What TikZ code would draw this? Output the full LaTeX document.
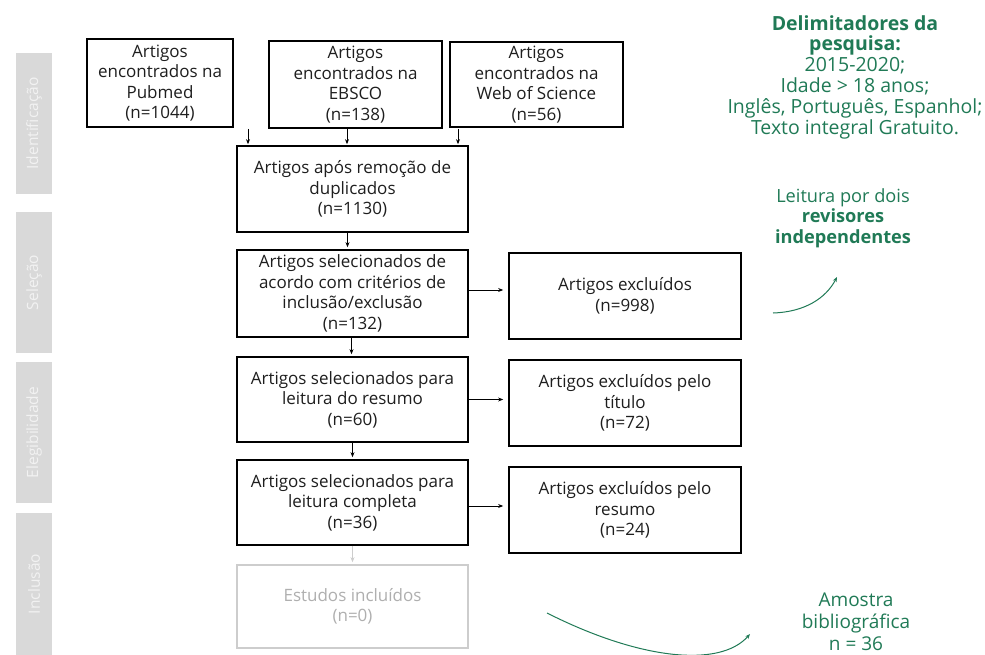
\documentclass[tikz,border=0pt]{standalone}
\usepackage{fontspec}
\setmainfont{Open Sans}
\usetikzlibrary{arrows.meta,calc}
\definecolor{boxtext}{RGB}{30,30,30}
\definecolor{barfill}{RGB}{217,217,217}
\definecolor{bartext}{RGB}{242,242,242}
\definecolor{faded}{RGB}{205,205,205}
\definecolor{fadedtext}{RGB}{175,175,175}
\definecolor{note}{RGB}{32,122,86}
\tikzset{
  flowbox/.style={draw=black, line width=1.7pt, fill=white, align=center,
    text=boxtext, inner sep=1pt,
    font=\fontsize{17}{20.5}\selectfont},
  fadedbox/.style={flowbox, draw=faded, text=fadedtext},
  phase/.style={fill=barfill, draw=none, minimum height=36pt, inner sep=0pt,
    text=bartext, rotate=90, font=\fontsize{15.5}{18}\selectfont},
  arr/.style={line width=0.9pt, -{Stealth[length=5pt,width=4pt]}},
  notetext/.style={align=center, text=note, inner sep=0pt,
    font=\fontsize{19.5}{20.8}\selectfont},
  notearr/.style={draw=note, line width=1pt, -{Stealth[length=5pt,width=4pt]}}
}
\begin{document}
\begin{tikzpicture}[x=1pt,y=-1pt]
\useasboundingbox (0,0) rectangle (985,655);

% phase bars on the left
\node[phase, minimum width=141pt] (pid) at (34,123.5) {Identificação};
\node[phase, minimum width=141pt] (psel) at (34,282.5) {Seleção};
\node[phase, minimum width=141pt] (pele) at (34,432.5) {Elegibilidade};
\node[phase, minimum width=142pt] (pinc) at (34,584) {Inclusão};

% database searches
\node[flowbox, minimum width=146pt, minimum height=88pt] (pub) at (160,83)
  {Artigos\\encontrados na\\Pubmed\\(n=1044)};
\node[flowbox, minimum width=173pt, minimum height=87pt] (ebsco) at (355.5,84.5)
  {Artigos\\encontrados na\\EBSCO\\(n=138)};
\node[flowbox, minimum width=173pt, minimum height=85pt] (wos) at (536.5,84.5)
  {Artigos\\encontrados na\\Web of Science\\(n=56)};

% main column
\node[flowbox, minimum width=231pt, minimum height=86pt] (dup) at (352.5,189)
  {Artigos após remoção de\\duplicados\\(n=1130)};
\node[flowbox, minimum width=231pt, minimum height=87pt] (sel) at (352.5,293.5)
  {Artigos selecionados de\\acordo com critérios de\\inclusão/exclusão\\(n=132)};
\node[flowbox, minimum width=231pt, minimum height=85pt] (res) at (352.5,399.5)
  {Artigos selecionados para\\leitura do resumo\\(n=60)};
\node[flowbox, minimum width=231pt, minimum height=85pt] (comp) at (352.5,502.5)
  {Artigos selecionados para\\leitura completa\\(n=36)};
\node[fadedbox, minimum width=231pt, minimum height=83pt] (est) at (352.5,606.5)
  {Estudos incluídos\\(n=0)};

% exclusions
\node[flowbox, minimum width=232pt, minimum height=86pt] (exc1) at (625,296)
  {Artigos excluídos\\(n=998)};
\node[flowbox, minimum width=232pt, minimum height=86pt] (exc2) at (625,403)
  {Artigos excluídos pelo\\título\\(n=72)};
\node[flowbox, minimum width=232pt, minimum height=86pt] (exc3) at (625,510)
  {Artigos excluídos pelo\\resumo\\(n=24)};

% arrows into the duplicate-removal step
\coordinate (s1) at (248,129);
\coordinate (s2) at (347,129);
\coordinate (s3) at (458,129);
\draw[arr, shorten >=1pt] (s1) -- (s1 |- dup.north);
\draw[arr, shorten >=1pt] (s2) -- (s2 |- dup.north);
\draw[arr, shorten >=1pt] (s3) -- (s3 |- dup.north);

% arrows down the main column
\coordinate (d1) at ($(dup.south)+(-5,0)$);
\coordinate (d2) at ($(sel.south)+(-1,0)$);
\draw[arr, shorten >=2pt] (d1) -- (d1 |- sel.north);
\draw[arr, shorten >=2pt] (d2) -- (d2 |- res.north);
\draw[arr, shorten >=2pt] (res.south) -- (comp.north);
\draw[arr, draw=faded, shorten >=2pt] (comp.south) -- (est.north);

% arrows to the exclusions
\coordinate (e1) at ($(sel.east)+(0,-3.5)$);
\coordinate (e3) at ($(comp.east)+(0,3.5)$);
\draw[arr, shorten >=5pt] (e1) -- (e1 -| exc1.west);
\draw[arr, shorten >=5pt] (res.east) -- (res.east -| exc2.west);
\draw[arr, shorten >=5pt] (e3) -- (e3 -| exc3.west);

% side notes
\node[notetext] (delim) at (855,77)
  {\textbf{Delimitadores da}\\\textbf{pesquisa:}\\2015-2020;\\Idade > 18 anos;\\Inglês, Português, Espanhol;\\Texto integral Gratuito.};
\node[notetext, font=\fontsize{18.2}{20.5}\selectfont] (rev) at (843,218)
  {Leitura por dois\\\textbf{revisores}\\\textbf{independentes}};
\node[notetext, font=\fontsize{19}{22}\selectfont] (amo) at (856,621.5)
  {Amostra\\bibliográfica\\n = 36};

\coordinate (c1a) at (773,313);
\coordinate (c1b) at (837,277);
\draw[notearr] (c1a) .. controls (805,312) and (826,298) .. (c1b);
\coordinate (c2a) at (547,613);
\coordinate (c2b) at (750,634);
\draw[notearr] (c2a) .. controls (640,660) and (720,668) .. (c2b);
\end{tikzpicture}
\end{document}
